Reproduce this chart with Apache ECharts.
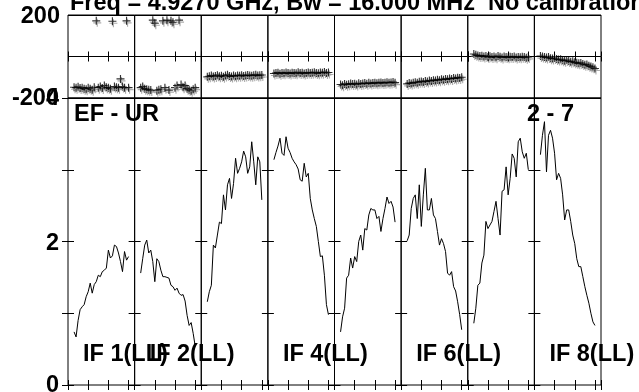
<!DOCTYPE html>
<html lang="en">

<head>
  <meta charset="UTF-8">
  <title>EF - UR</title>
  <script src="https://cdn.jsdelivr.net/npm/echarts@6/dist/echarts.min.js"></script>
</head>

<body style="margin:0">
  <div id="main" style="width: 639px;height: 392px;"></div>
</body>
<script>
  // channels plotted in each IF panel
  var channels = [3, 4, 5, 6, 7, 8, 9, 10, 11, 12, 13, 14, 15, 16, 17, 18, 19, 20, 21, 22, 23, 24, 25, 26, 27, 28, 29, 30]

  // amplitude per IF
  var amp1 = [0.74, 0.67, 0.90, 1.05, 1.09, 1.12, 1.23, 1.30, 1.42, 1.28, 1.40, 1.44, 1.53, 1.51, 1.58, 1.60, 1.63, 1.88, 1.77, 1.80, 1.95, 1.93, 1.84, 1.72, 1.58, 1.86, 1.74, 1.79]
  var amp2 = [1.56, 1.76, 1.95, 2.02, 1.84, 1.88, 1.72, 1.44, 1.76, 1.72, 1.60, 1.51, 1.51, 1.50, 1.49, 1.39, 1.37, 1.32, 1.35, 1.28, 1.25, 1.26, 1.17, 0.97, 0.83, 0.87, 0.72, 0.54]
  var amp3 = [1.16, 1.30, 1.39, 1.95, 1.91, 2.09, 2.27, 2.25, 2.65, 2.44, 2.79, 2.88, 2.60, 2.81, 3.16, 2.95, 3.02, 3.11, 3.26, 3.18, 2.95, 3.04, 3.39, 3.11, 2.79, 3.18, 3.11, 2.58]
  var amp4 = [3.14, 3.24, 3.33, 3.44, 3.23, 3.20, 3.46, 3.30, 3.24, 3.16, 3.11, 3.07, 3.01, 2.86, 2.84, 3.09, 2.90, 2.95, 2.60, 2.44, 2.32, 2.21, 2.00, 1.79, 1.80, 1.53, 1.12, 0.98]
  var amp5 = [0.74, 0.95, 1.07, 1.49, 1.53, 1.77, 1.63, 1.79, 1.72, 2.00, 2.09, 1.88, 2.18, 2.16, 2.37, 2.46, 2.44, 2.44, 2.32, 2.35, 2.14, 2.32, 2.46, 2.62, 2.53, 2.56, 2.48, 2.27]
  var amp6 = [2.01, 2.09, 2.46, 2.60, 2.65, 2.32, 2.79, 2.21, 2.65, 3.02, 2.44, 2.44, 2.60, 2.37, 2.32, 2.14, 1.95, 2.04, 1.97, 1.86, 1.56, 1.53, 1.58, 1.37, 1.31, 1.16, 0.98, 0.77]
  var amp7 = [0.86, 1.07, 1.39, 1.42, 1.70, 1.81, 2.28, 2.18, 2.23, 2.28, 2.42, 2.56, 2.32, 2.09, 2.70, 2.72, 3.04, 2.65, 2.88, 3.22, 3.16, 2.90, 3.39, 3.44, 3.25, 3.16, 3.23, 3.00]
  var amp8 = [3.21, 3.48, 3.67, 2.97, 3.48, 3.55, 3.44, 3.23, 2.86, 2.95, 2.88, 2.65, 2.30, 2.44, 2.44, 2.28, 2.09, 1.97, 1.76, 1.65, 1.65, 1.51, 1.37, 1.25, 1.14, 1.00, 0.88, 0.83]

  // phase per IF (degrees)
  var phase1 = [-148, -150, -146, -152, -150, -155, -158, -150, -155, -160, -148, 172, -150, -145, -152, -140, -148, -150, -155, 170, -145, -148, -150, -108, -145, -150, 172, -150]
  var phase2 = [-150, -145, -155, -158, -160, -162, 175, 160, -165, -160, -158, 172, -150, 175, -162, 172, 165, -150, -140, 175, -135, -148, -140, -155, -160, -165, -158, -150]
  var phase3 = [-98, -95, -92, -96, -94, -90, -95, -93, -97, -92, -88, -94, -96, -92, -95, -91, -93, -90, -94, -92, -89, -91, -93, -90, -88, -92, -90, -89]
  var phase4 = [-82, -80, -78, -83, -79, -81, -77, -80, -82, -78, -79, -81, -76, -80, -78, -82, -79, -77, -80, -78, -76, -79, -81, -77, -78, -75, -79, -77]
  var phase5 = [-135, -138, -132, -136, -134, -130, -133, -131, -135, -129, -132, -130, -128, -131, -127, -130, -128, -126, -129, -127, -125, -128, -126, -124, -127, -125, -123, -126]
  var phase6 = [-132, -128, -130, -126, -124, -127, -122, -120, -123, -118, -121, -116, -118, -114, -116, -112, -114, -110, -112, -108, -110, -106, -108, -104, -106, -102, -104, -100]
  var phase7 = [12, 8, 5, 2, 4, 0, 3, -2, 1, -3, 0, -4, 2, -1, -5, 0, -2, -4, -1, -3, 0, -5, -2, -4, -1, -3, -6, -2]
  var phase8 = [2, 0, -2, -5, -3, -8, -10, -7, -12, -15, -13, -18, -20, -17, -22, -25, -23, -28, -30, -33, -31, -36, -40, -38, -44, -48, -52, -58]

  var ifLabels = ['IF 1(LL)', 'IF 2(LL)', '', 'IF 4(LL)', '', 'IF 6(LL)', '', 'IF 8(LL)']
  var phaseTicks = ['200', '-200']
  var ampTicks = ['4', '2', '0']

  var amps = [amp1, amp2, amp3, amp4, amp5, amp6, amp7, amp8]
  var phases = [phase1, phase2, phase3, phase4, phase5, phase6, phase7, phase8]

  var charts = echarts.init(document.getElementById('main'));
  var font = 'bold 23.5px "Liberation Sans", Arial, sans-serif'
  var L = 68, R = 601, W = (R - L) / 8
  var topY = 15, midY = 98, botY = 385

  var grids = [], xAxes = [], yAxes = [], series = []

  function xAx(g, pos) {
    return {
      type: 'value', gridIndex: g, position: pos, min: 0, max: 33, interval: 10,
      axisLine: { show: false },
      axisTick: { show: true, inside: true, length: 5, lineStyle: { color: '#000' } },
      axisLabel: { show: false },
      splitLine: { show: false }
    }
  }
  function yAx(g, pos, isPhase) {
    return {
      type: 'value', gridIndex: g, position: pos,
      min: isPhase ? -200 : 0, max: isPhase ? 200 : 4, interval: isPhase ? 200 : 1,
      axisLine: { show: false },
      axisTick: { show: !isPhase, inside: true, length: 6, lineStyle: { color: '#000' } },
      axisLabel: { show: false },
      splitLine: { show: isPhase && pos == 'left', lineStyle: { color: '#000', width: 1 } }
    }
  }

  var plus = 'path://M3,0H4V3H7V4H4V7H3V4H0V3H3Z'

  for (var i = 0; i < 8; i++) {
    // phase panel
    var g = grids.length
    grids.push({ left: L + i * W, top: topY, width: W, height: midY - topY, show: true, borderColor: '#000', borderWidth: 1 })
    xAxes.push(xAx(g, 'bottom'), xAx(g, 'top'))
    yAxes.push(yAx(g, 'left', true), yAx(g, 'right', true))
    series.push({
      type: 'scatter', xAxisIndex: 2 * g, yAxisIndex: 2 * g,
      symbol: plus, symbolSize: 8,
      itemStyle: { color: '#000', shadowColor: '#999', shadowOffsetX: 1, shadowOffsetY: 2, shadowBlur: 0 },
      data: channels.map((c, k) => [c, phases[i][k]])
    })
    // amplitude panel
    g = grids.length
    grids.push({ left: L + i * W, top: midY, width: W, height: botY - midY, show: true, borderColor: '#000', borderWidth: 1 })
    xAxes.push(xAx(g, 'bottom'), xAx(g, 'top'))
    yAxes.push(yAx(g, 'left', false), yAx(g, 'right', false))
    series.push({
      type: 'line', xAxisIndex: 2 * g, yAxisIndex: 2 * g,
      showSymbol: false, symbol: 'none',
      lineStyle: { color: '#000', width: 1 },
      data: channels.map((c, k) => [c, amps[i][k]])
    })
  }

  var texts = []
  function txt(s, x, y, align) {
    texts.push({ type: 'text', z: 100, x: x, y: y, style: { text: s, font: font, fill: '#000', align: align || 'left', verticalAlign: 'middle' } })
  }
  txt('Freq = 4.9270 GHz, Bw = 16.000 MHz  No calibration', 70, 4)
  txt(phaseTicks[0], 60, 17, 'right')
  txt(phaseTicks[1], 59, 99, 'right')
  txt(ampTicks[0], 59, 99, 'right')
  txt(ampTicks[1], 59, 244, 'right')
  txt(ampTicks[2], 59, 386, 'right')
  txt('EF - UR', 74, 115)
  txt('2 - 7', 527, 115)
  ifLabels.forEach(function (s, i) {
    if (s) txt(s, L + i * W + 15, 355)
  })

  var option = {
    animation: false,
    backgroundColor: '#fff',
    grid: grids,
    xAxis: xAxes,
    yAxis: yAxes,
    series: series,
    graphic: texts
  };
  charts.setOption(option);
</script>

</html>
